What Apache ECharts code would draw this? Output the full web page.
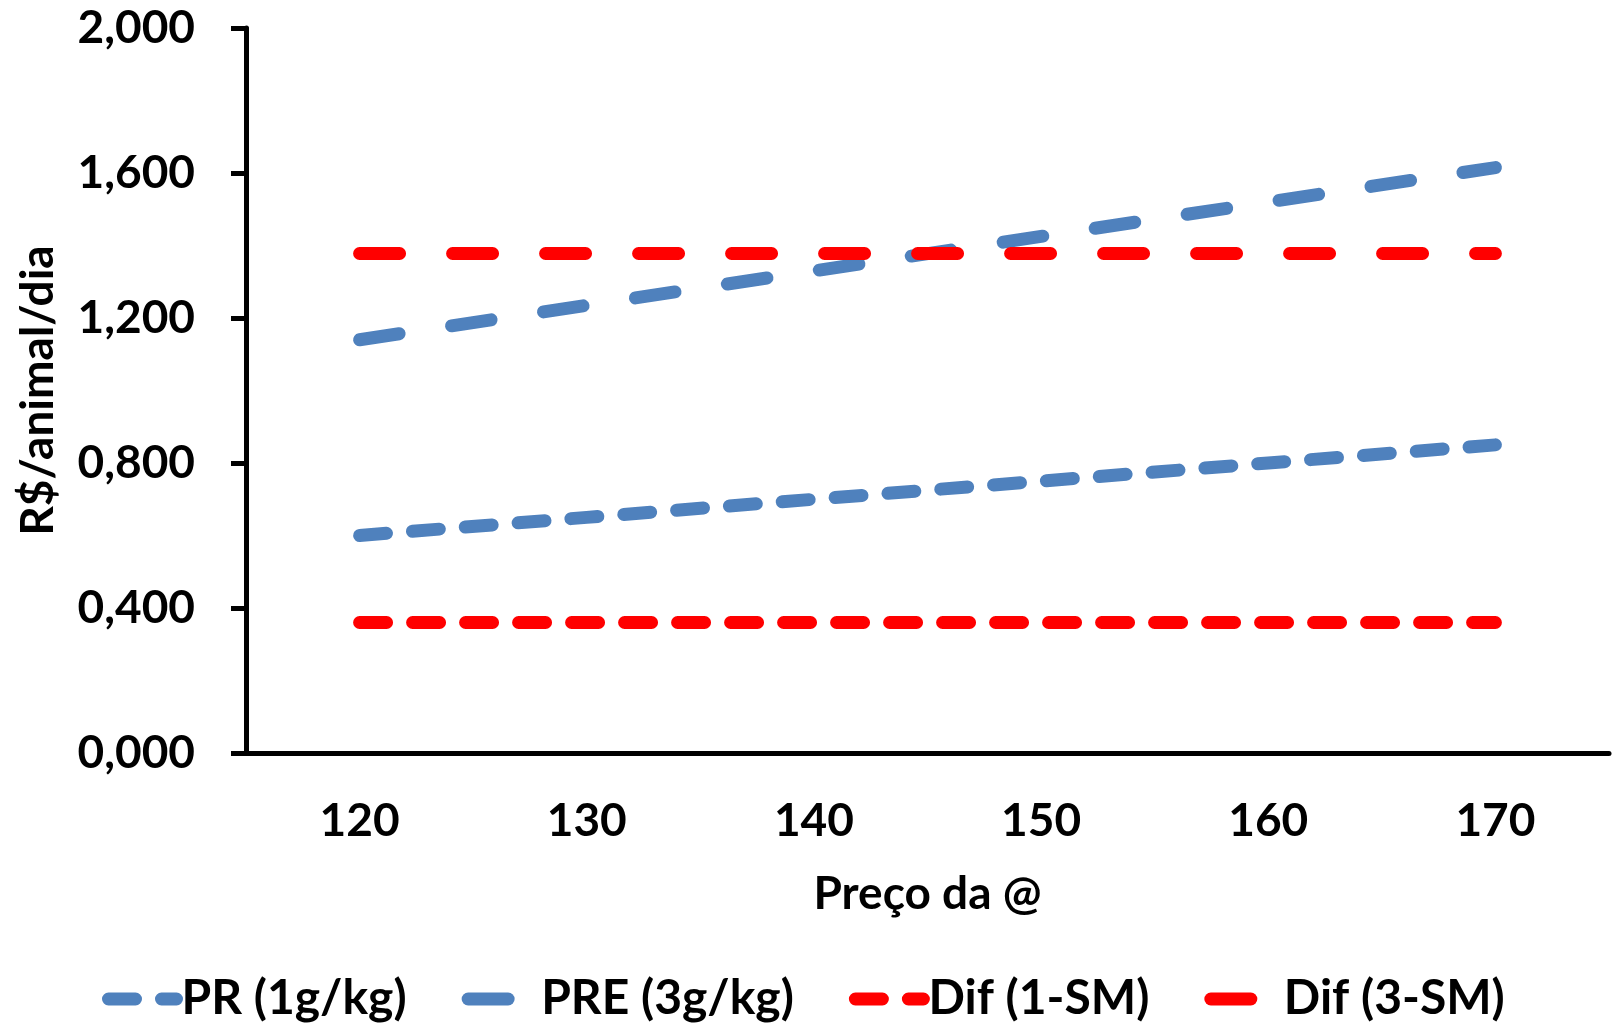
<!DOCTYPE html>
<html>
<head>
<meta charset="utf-8">
<script src="https://cdn.jsdelivr.net/npm/echarts@6/dist/echarts.min.js"></script>
<style>
html,body{margin:0;padding:0;background:#fff;}
#chart{width:1617px;height:1026px;}
</style>
</head>
<body>
<div id="chart"></div>
<script>
const categories = ['120', '130', '140', '150', '160', '170'];
const prValues = [0.600, 0.650, 0.700, 0.750, 0.800, 0.850];
const preValues = [1.140, 1.235, 1.330, 1.425, 1.520, 1.615];
const dif1Values = [0.360, 0.360, 0.360, 0.360, 0.360, 0.360];
const dif3Values = [1.378, 1.378, 1.378, 1.378, 1.378, 1.378];
const yTickLabels = ['0,000', '0,400', '0,800', '1,200', '1,600', '2,000'];
const seriesNames = ['PR (1g/kg)', 'PRE (3g/kg)', 'Dif (1-SM)', 'Dif (3-SM)'];

const FONT = 'Lato, "Open Sans", sans-serif';
const BLUE = '#4F81BD';
const RED = '#FF0000';
const LW = 13;
const SHORT = [27, 26];
const LONG = [40, 53];

function mk(name, data, color, dash) {
  return {
    name: name,
    type: 'line',
    data: data,
    symbol: 'none',
    showSymbol: false,
    silent: true,
    animation: false,
    lineStyle: { color: color, width: LW, type: dash, cap: 'round', join: 'round' },
    itemStyle: { color: color }
  };
}

const chart = echarts.init(document.getElementById('chart'));
chart.setOption({
  backgroundColor: '#fff',
  animation: false,
  grid: { left: 246, right: 8, top: 28, bottom: 273, containLabel: false },
  xAxis: {
    type: 'category',
    data: categories,
    boundaryGap: true,
    name: 'Preço da @',
    nameLocation: 'middle',
    nameGap: 118,
    nameTextStyle: { fontFamily: FONT, fontWeight: 'bold', fontSize: 46, color: '#000' },
    axisLine: { lineStyle: { color: '#000', width: 5 } },
    axisTick: { alignWithLabel: false, length: 15, lineStyle: { color: '#000', width: 5 } },
    axisLabel: { margin: 45, fontFamily: FONT, fontWeight: 'bold', fontSize: 46, color: '#000' },
    splitLine: { show: false }
  },
  yAxis: {
    type: 'value',
    min: 0,
    max: 2,
    interval: 0.4,
    name: 'R$/animal/dia',
    nameLocation: 'middle',
    nameGap: 185,
    nameTextStyle: { fontFamily: FONT, fontWeight: 'bold', fontSize: 46, color: '#000' },
    axisLine: { show: true, lineStyle: { color: '#000', width: 5 } },
    axisTick: { show: true, length: 15, lineStyle: { color: '#000', width: 5 } },
    axisLabel: {
      margin: 51,
      fontFamily: FONT, fontWeight: 'bold', fontSize: 46, color: '#000',
      formatter: function (v) { return yTickLabels[Math.round(v / 0.4)]; }
    },
    splitLine: { show: false }
  },
  legend: {
    data: seriesNames,
    bottom: -2,
    left: 97,
    itemWidth: 68,
    itemHeight: 14,
    itemGap: 55,
    textStyle: { fontFamily: FONT, fontWeight: 'bold', fontSize: 48, color: '#000' },
    lineStyle: { width: LW, cap: 'round' },
    itemStyle: { color: 'rgba(0,0,0,0)', borderColor: 'rgba(0,0,0,0)', borderWidth: 0 }
  },
  series: [
    mk(seriesNames[0], prValues, BLUE, SHORT),
    mk(seriesNames[1], preValues, BLUE, LONG),
    mk(seriesNames[2], dif1Values, RED, SHORT),
    mk(seriesNames[3], dif3Values, RED, LONG)
  ]
});
</script>
</body>
</html>
